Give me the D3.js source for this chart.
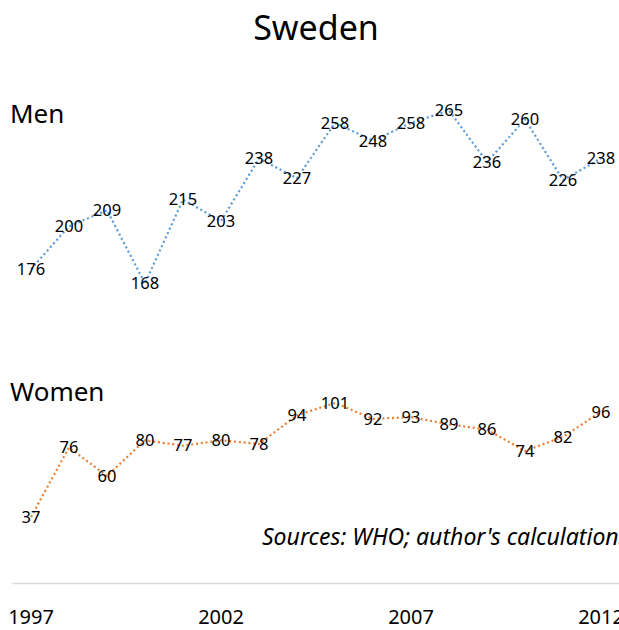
<!DOCTYPE html>
<html>
<head>
<meta charset="utf-8">
<script src="https://cdn.jsdelivr.net/npm/d3@7"></script>
<style>
  body { margin: 0; overflow: hidden; background: #fff; }
  svg text { font-family: "Segoe UI", "Noto Sans", sans-serif; fill: #000; }
</style>
</head>
<body>
<svg id="chart"></svg>
<script>
// data
var years = [1997, 1998, 1999, 2000, 2001, 2002, 2003, 2004, 2005, 2006, 2007, 2008, 2009, 2010, 2011, 2012];
var men   = [176, 200, 209, 168, 215, 203, 238, 227, 258, 248, 258, 265, 236, 260, 226, 238];
var women = [37, 76, 60, 80, 77, 80, 78, 94, 101, 92, 93, 89, 86, 74, 82, 96];
var tickYears = [1997, 2002, 2007, 2012];
var seriesNames = ["Men", "Women"];

var width = 632, height = 630;
var margin = { left: 12, right: 12, top: 48, bottom: 47 };

var svg = d3.select("#chart")
    .attr("width", width)
    .attr("height", height);

var x = d3.scaleBand()
    .domain(years)
    .range([margin.left, width - margin.right])
    .padding(0);

var y = d3.scaleLinear()
    .domain([0, 300])
    .range([height - margin.bottom, margin.top]);

var cx = function(d, i) { return x(years[i]) + x.bandwidth() / 2; };

// title
svg.append("text")
    .attr("x", width / 2)
    .attr("y", 40)
    .attr("text-anchor", "middle")
    .style("font-size", "34px")
    .text("Sweden");

// x axis, just the light line and every 5th year
var xAxis = g => g
    .attr("transform", `translate(0,${y(0)})`)
    .call(d3.axisBottom(x).tickValues(tickYears).tickSize(0).tickPadding(27))
    .call(g => g.select(".domain").attr("stroke", "#d9d9d9").attr("stroke-width", 1.5))
    .call(g => g.selectAll("text").style("font-size", "20px").attr("fill", "#000"));
svg.append("g").call(xAxis);

function drawSeries(values, colour, name, labelY) {
  var line = d3.line()
      .x(cx)
      .y(d => y(d));

  svg.append("path")
      .datum(values)
      .attr("fill", "none")
      .attr("stroke", colour)
      .attr("stroke-width", 2.2)
      .attr("stroke-dasharray", "2,2.8")
      .attr("d", line);

  svg.append("g").selectAll("text")
      .data(values)
      .enter().append("text")
      .attr("x", cx)
      .attr("y", d => y(d))
      .attr("dy", "0.35em")
      .attr("text-anchor", "middle")
      .style("font-size", "16.5px")
      .text(d => d);

  svg.append("text")
      .attr("x", 10)
      .attr("y", labelY)
      .style("font-size", "26px")
      .text(name);
}

drawSeries(men, "#5b9bd5", seriesNames[0], 123);
drawSeries(women, "#ed7d31", seriesNames[1], 401);

svg.append("text")
    .attr("x", 262)
    .attr("y", 545)
    .style("font-size", "23px")
    .style("font-style", "italic")
    .text("Sources: WHO; author's calculations");
</script>
</body>
</html>
